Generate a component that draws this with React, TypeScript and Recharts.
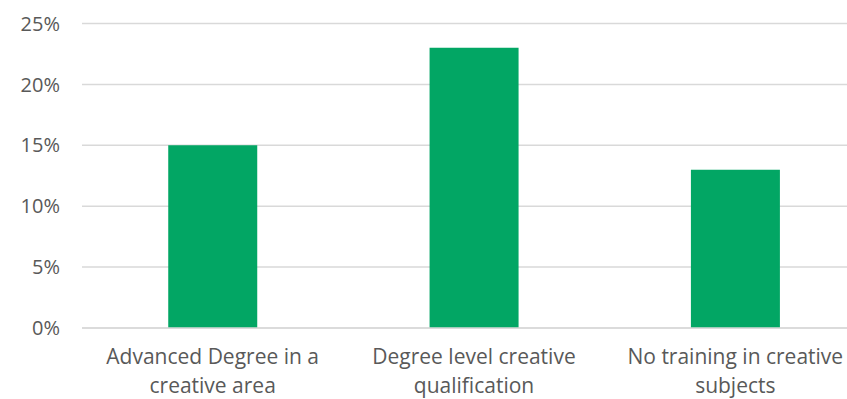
import React from "react";
import { BarChart, Bar, XAxis, YAxis, CartesianGrid } from "recharts";

// Share of respondents by creative training background
const categories = [
  "Advanced Degree in a\ncreative area",
  "Degree level creative\nqualification",
  "No training in creative\nsubjects",
];
const shares = [15, 23, 13];
const yTicks = [0, 5, 10, 15, 20, 25];

const data = categories.map((name, i) => ({ name, value: shares[i] }));

const FONT = "'Open Sans', sans-serif";
const TEXT = "#595959";
const GREEN = "#02A664";

const CategoryTick = (props: any) => {
  const { x, y, payload } = props;
  const lines = String(payload.value).split("\n");
  return (
    <text
      x={x}
      y={y}
      textAnchor="middle"
      fill={TEXT}
      fontFamily={FONT}
      fontSize={21}
    >
      {lines.map((line, i) => (
        <tspan key={i} x={x} dy={i === 0 ? 28 : 29}>
          {line}
        </tspan>
      ))}
    </text>
  );
};

export default function App() {
  return (
    <div
      style={{
        position: "fixed",
        left: 0,
        top: 0,
        width: 847,
        height: 399,
        overflow: "hidden",
        background: "#fff",
      }}
    >
      <BarChart
        width={878}
        height={399}
        data={data}
        barCategoryGap="33%"
        margin={{ top: 23.5, right: 12, bottom: 0, left: 0 }}
      >
        <CartesianGrid vertical={false} stroke="#D9D9D9" strokeWidth={1.5} />
        <XAxis
          dataKey="name"
          height={71}
          axisLine={{ stroke: "#D9D9D9", strokeWidth: 1.5 }}
          tickLine={false}
          interval={0}
          tick={<CategoryTick />}
        />
        <YAxis
          domain={[0, 25]}
          ticks={yTicks}
          width={82}
          axisLine={false}
          tickLine={false}
          tickMargin={16}
          tickFormatter={(v: number) => `${v}%`}
          tick={{ fill: TEXT, fontFamily: FONT, fontSize: 20 }}
        />
        <Bar dataKey="value" fill={GREEN} isAnimationActive={false} />
      </BarChart>
    </div>
  );
}
